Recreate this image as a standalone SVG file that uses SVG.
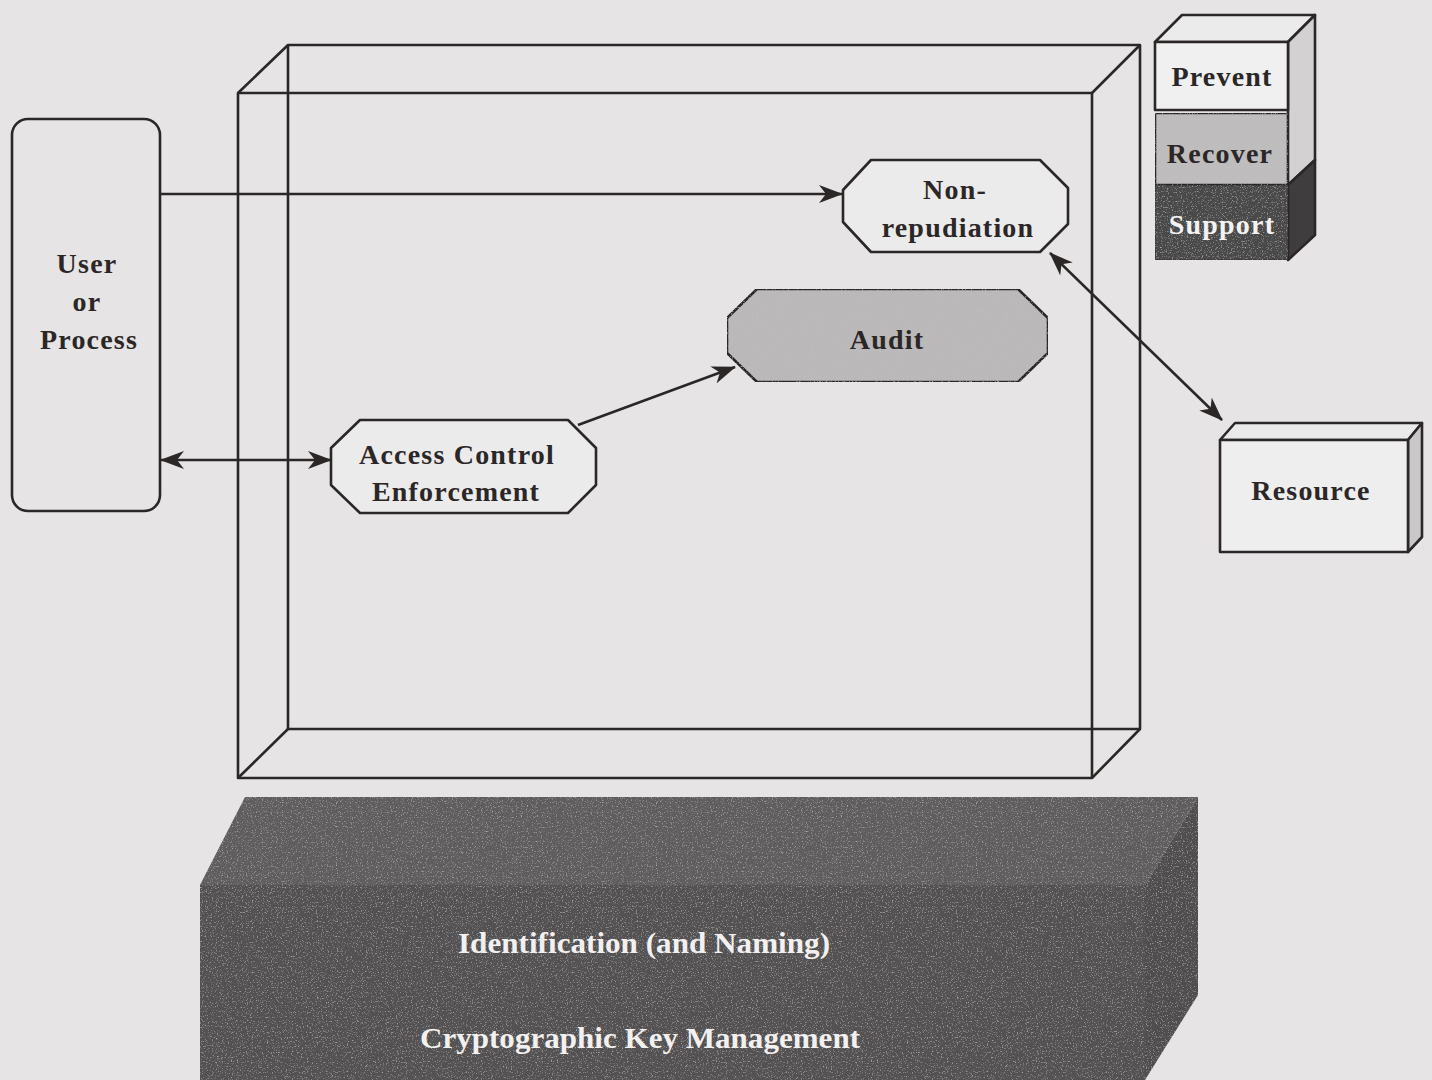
<svg xmlns="http://www.w3.org/2000/svg" width="1432" height="1080" viewBox="0 0 1432 1080">
<style>
.ln{fill:none;stroke:#2b2727;stroke-width:2.6;stroke-linejoin:round}
.bx{stroke:#2b2727;stroke-width:2.6;stroke-linejoin:round}
.t{font-family:"Liberation Serif","Times New Roman",serif;font-weight:bold;font-size:28px;fill:#2b2727;text-anchor:middle;letter-spacing:1.2px}
.tw{font-family:"Liberation Serif","Times New Roman",serif;font-weight:bold;font-size:30px;fill:#f2f0f0;text-anchor:middle}
.cn{fill:none;stroke:#2b2727;stroke-width:2.6}
</style>
<defs>
<marker id="ah" viewBox="0 0 24 18" refX="23" refY="9" markerWidth="24" markerHeight="18" markerUnits="userSpaceOnUse" orient="auto-start-reverse">
<path d="M0,0 L24,9 L0,18 L7,9 Z" fill="#2b2727"/>
</marker>
<filter id="grain" x="0" y="0" width="100%" height="100%">
<feTurbulence type="fractalNoise" baseFrequency="0.8" numOctaves="2" seed="3" result="n"/>
<feColorMatrix in="n" type="matrix" values="0 0 0 0 0.55  0 0 0 0 0.55  0 0 0 0 0.55  0 0 0 2.2 -1.25" result="g"/>
<feComposite in="g" in2="SourceGraphic" operator="in" result="gc"/>
<feMerge><feMergeNode in="SourceGraphic"/><feMergeNode in="gc"/></feMerge>
</filter>
</defs>
<rect width="1432" height="1080" fill="#e6e4e4"/>

<g id="enclosure">
<rect x="288" y="45" width="852" height="684" class="ln"/>
<rect x="238" y="93" width="854" height="685" class="ln"/>
<path d="M288,45 L238,93 M1140,45 L1092,93 M288,729 L238,778 M1140,729 L1092,778" class="ln"/>
</g>

<g id="foundation">
<polygon points="200,885 245,797 1198,797 1145,885" fill="#5f5d5d" filter="url(#grain)"/>
<polygon points="1145,885 1198,797 1198,995 1145,1080" fill="#4f4d4d" filter="url(#grain)"/>
<rect x="200" y="885" width="945" height="195" fill="#535151" filter="url(#grain)"/>
<text class="tw" x="644" y="953" textLength="372" lengthAdjust="spacingAndGlyphs">Identification (and Naming)</text>
<text class="tw" x="640" y="1048" textLength="440" lengthAdjust="spacingAndGlyphs">Cryptographic Key Management</text>
</g>

<g id="user">
<rect x="12" y="119" width="148" height="392" rx="16" fill="#e6e4e4" class="bx"/>
<text class="t" x="87" y="273">User</text>
<text class="t" x="87" y="311">or</text>
<text class="t" x="89" y="349">Process</text>
</g>

<g id="nonrepudiation">
<polygon points="871,160 1040,160 1068,188 1068,224 1040,252 871,252 843,222 843,190" fill="#ecebeb" class="bx"/>
<text class="t" x="955" y="199">Non-</text>
<text class="t" x="958" y="237">repudiation</text>
</g>

<g id="audit">
<polygon points="757,289 1018,289 1048,318 1048,353 1018,382 757,382 727,353 727,318" fill="#bab8b8" filter="url(#grain)" class="bx"/>
<text class="t" x="887" y="349">Audit</text>
</g>

<g id="access">
<polygon points="360,420 568,420 596,448 596,485 568,513 360,513 331,485 331,448" fill="#ecebeb" class="bx"/>
<text class="t" x="457" y="464">Access Control</text>
<text class="t" x="456" y="501">Enforcement</text>
</g>

<g id="resource">
<polygon points="1220,440 1235,423 1422,423 1408,440" fill="#ebeaea" class="bx"/>
<polygon points="1408,440 1422,423 1422,537 1408,552" fill="#c9c7c7" class="bx"/>
<rect x="1220" y="440" width="188" height="112" fill="#efeeee" class="bx"/>
<text class="t" x="1311" y="500">Resource</text>
</g>

<g id="stack">
<polygon points="1155,42 1182,15 1315,15 1288,42" fill="#ecebeb" class="bx"/>
<polygon points="1288,42 1315,15 1315,160 1288,185" fill="#d3d1d1" class="bx"/>
<polygon points="1288,185 1315,160 1315,235 1288,260" fill="#3f3d3d" class="bx"/>
<g id="prevent">
<rect x="1155" y="42" width="133" height="68" fill="#f1f0f0" class="bx"/>
<text class="t" x="1222" y="86">Prevent</text>
</g>
<g id="recover">
<rect x="1155" y="113" width="133" height="72" fill="#bebcbc" filter="url(#grain)" class="bx"/>
<text class="t" x="1220" y="163">Recover</text>
</g>
<g id="support">
<rect x="1155" y="185" width="133" height="75" fill="#4a4848" filter="url(#grain)" stroke="#3a3838" stroke-width="1.5"/>
<text class="t" x="1222" y="234" style="fill:#f4f2f2">Support</text>
</g>
</g>

<g id="connectors">
<line x1="160" y1="194" x2="842" y2="194" class="cn" marker-end="url(#ah)"/>
<line x1="161" y1="460" x2="331" y2="460" class="cn" marker-start="url(#ah)" marker-end="url(#ah)"/>
<line x1="578" y1="425" x2="735" y2="367" class="cn" marker-end="url(#ah)"/>
<line x1="1050" y1="253" x2="1222" y2="420" class="cn" marker-start="url(#ah)" marker-end="url(#ah)"/>
</g>
</svg>
